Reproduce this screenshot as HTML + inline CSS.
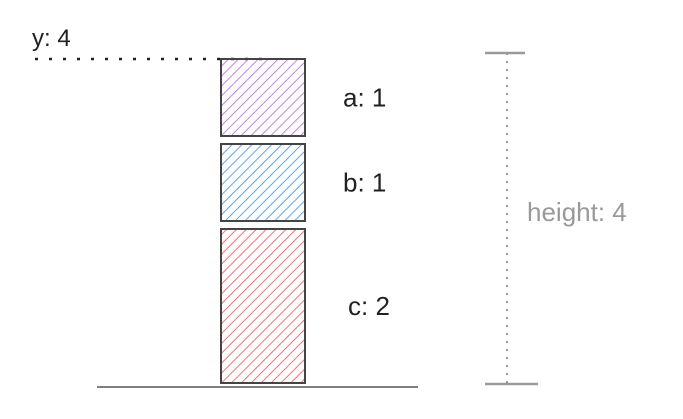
<!DOCTYPE html>
<html><head><meta charset="utf-8"><style>
body{margin:0;background:#fff;}
svg{display:block;font-family:"Liberation Sans",sans-serif;}
</style></head><body>
<svg id="chart" width="683" height="419" viewBox="0 0 683 419">
<defs>
<pattern id="hatch-a" width="7" height="7" patternUnits="userSpaceOnUse" patternTransform="rotate(45)"><line x1="0" y1="0" x2="0" y2="7" stroke="#c060e0" stroke-width="1.6"/></pattern>
<pattern id="hatch-b" width="7" height="7" patternUnits="userSpaceOnUse" patternTransform="rotate(45)"><line x1="0" y1="0" x2="0" y2="7" stroke="#3a8ee8" stroke-width="1.6"/></pattern>
<pattern id="hatch-c" width="7" height="7" patternUnits="userSpaceOnUse" patternTransform="rotate(45)"><line x1="0" y1="0" x2="0" y2="7" stroke="#f05050" stroke-width="1.6"/></pattern>
</defs>
<line x1="97" y1="387" x2="418" y2="387" stroke="#333" stroke-width="1.3"/>
<line x1="35" y1="59" x2="265" y2="59" stroke="#222" stroke-width="2.5" stroke-dasharray="3,11"/>
<text x="32" y="46" font-size="24" fill="#222">y: 4</text>
<g id="bars"></g>
<g stroke="#999">
<line x1="485" y1="53" x2="525" y2="53" stroke-width="2.5"/>
<line x1="485" y1="384" x2="538" y2="384" stroke-width="2.5"/>
<line x1="507" y1="53" x2="507" y2="384" stroke-width="2" stroke-dasharray="2,6"/>
</g>
<text x="527" y="221" font-size="26" fill="#999">height: 4</text>
</svg>
<script>
const categories=["a","b","c"];
const values=[1,1,2];
const fills=["url(#hatch-a)","url(#hatch-b)","url(#hatch-c)"];
const unit=77, gap=8, top0=59;
const g=document.getElementById('bars');
const ns="http://www.w3.org/2000/svg";
let y=top0;
for(let i=0;i<categories.length;i++){
  const h=values[i]*unit;
  const r=document.createElementNS(ns,'rect');
  
  
  r.setAttribute('x',221);r.setAttribute('y',y);r.setAttribute('width',84);r.setAttribute('height',h);
  r.setAttribute('fill',fills[i]);r.setAttribute('stroke','#444');r.setAttribute('stroke-width','2');
  g.appendChild(r);
  const t=document.createElementNS(ns,'text');
  
  
  t.setAttribute('x',343+(i==2?5:0));t.setAttribute('y',y+h/2+9);
  t.setAttribute('font-size','26');t.setAttribute('fill','#222');
  t.textContent=categories[i]+': '+values[i];
  g.appendChild(t);
  y+=h+gap;
}
</script>
</body></html>
